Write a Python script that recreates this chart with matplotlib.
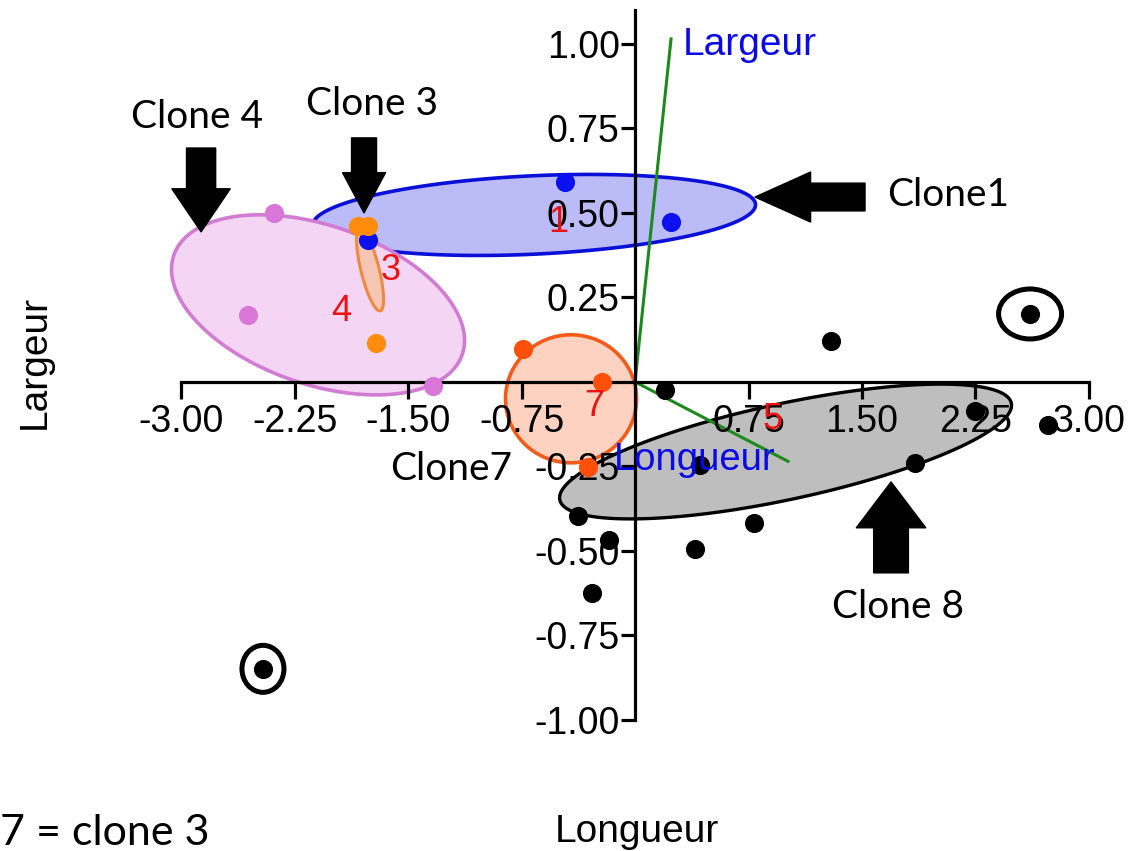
import numpy as np
import matplotlib
matplotlib.use("Agg")
import matplotlib.pyplot as plt
from matplotlib.patches import Polygon, Ellipse

plt.rcParams['font.family'] = ['Liberation Sans', 'DejaVu Sans']
plt.rcParams['axes.unicode_minus'] = False

# ---------------- données ----------------
x_ticks = [-3.00, -2.25, -1.50, -0.75, 0.75, 1.50, 2.25, 3.00]
y_ticks = [1.00, 0.75, 0.50, 0.25, -0.25, -0.50, -0.75, -1.00]

clone1_x = [-0.463, 0.238, -1.765]
clone1_y = [0.592, 0.473, 0.420]
clone4_x = [-2.386, -2.558, -1.335]
clone4_y = [0.500, 0.198, -0.012]
clone3_x = [-1.831, -1.765, -1.712]
clone3_y = [0.462, 0.462, 0.115]
clone7_x = [-0.740, -0.218, -0.310]
clone7_y = [0.098, 0.000, -0.252]
autres_x = [1.295, 0.198, 0.430, 2.247, 2.730, 1.851, -0.377, 0.787, -0.172, 0.397, -0.284]
autres_y = [0.121, -0.024, -0.246, -0.086, -0.127, -0.240, -0.396, -0.417, -0.467, -0.494, -0.624]
entoures_x = [2.611, -2.459]
entoures_y = [0.201, -0.849]

# ellipses : centre, demi-axes (unités de x), angle (degrés à l'écran)
ell_centres = [(-0.667, 0.494), (-2.095, 0.228), (-1.751, 0.331), (-0.423, -0.050), (0.995, -0.206)]
ell_a = [1.465, 1.008, 0.278, 0.433, 1.526]
ell_b = [0.259, 0.525, 0.060, 0.423, 0.317]
ell_angle = [2.7, -19.0, 104.0, 0.0, 12.1]

# vecteurs des variables
var_noms = ['Largeur', 'Longueur']
var_x = [0.238, 1.011]
var_y = [1.015, -0.235]

# numéros des groupes (centroïdes)
num_labels = ['1', '3', '4', '7', '5']
num_x = [-0.509, -1.613, -1.943, -0.271, 0.912]
num_y = [0.473, 0.331, 0.207, -0.074, -0.112]

# ---------------- figure ----------------
W, H = 1131, 851
fig = plt.figure(figsize=(W / 100, H / 100), dpi=100)
ax = fig.add_axes([0, 0, 1, 1])
x0, x1 = -4.197, 3.278
y0, y1 = -1.388, 1.130
ax.set_xlim(x0, x1)
ax.set_ylim(y0, y1)
sx = W / (x1 - x0)   # px par unité
sy = H / (y1 - y0)
k = sy / sx

faces = ['#BBBBF7', '#F4D6F4', '#F5C6B4', '#FDD2C0', '#BEBEBE']
bords = ['#0A10D8', '#D27BD2', '#EE8A40', '#F45A1A', '#000000']
lw_ell = [2.6, 2.6, 2.2, 2.6, 2.4]

t = np.linspace(0, 2 * np.pi, 300)
for (cx, cy), a, b, ang, fc, ec, lw in zip(ell_centres, ell_a, ell_b, ell_angle, faces, bords, lw_ell):
    th = np.radians(ang)
    dx = a * np.cos(t) * np.cos(th) - b * np.sin(t) * np.sin(th)
    dy = (a * np.cos(t) * np.sin(th) + b * np.sin(t) * np.cos(th)) / k
    ax.add_patch(Polygon(np.column_stack([cx + dx, cy + dy]), closed=True,
                         facecolor=fc, edgecolor=ec, lw=lw, zorder=1))

# axes centrés
for s in ['top', 'right']:
    ax.spines[s].set_visible(False)
ax.spines['left'].set_position(('data', 0))
ax.spines['bottom'].set_position(('data', 0))
ax.spines['left'].set_bounds(-1.0, 1.10)
ax.spines['bottom'].set_bounds(-3.0, 3.0)
ax.spines['left'].set_linewidth(2.3)
ax.spines['bottom'].set_linewidth(2.3)
ax.set_axisbelow(False)
ax.set_xticks(x_ticks)
ax.set_xticklabels(['%.2f' % v for v in x_ticks])
ax.set_yticks(y_ticks)
ax.set_yticklabels(['%.2f' % v for v in y_ticks])
ax.tick_params(axis='x', direction='out', length=12, width=2.3, pad=4, labelsize=27)
ax.tick_params(axis='y', direction='out', length=10, width=2.3, pad=1, labelsize=27)

# vecteurs
for vx, vy in zip(var_x, var_y):
    ax.plot([0, vx], [0, vy], color='#1C8A1C', lw=2.2, zorder=2)
ax.text(0.317, 0.997, var_noms[0], color='#0A0AE6', fontsize=28, ha='left', va='center', zorder=4)
ax.text(-0.139, -0.231, var_noms[1], color='#0A0AE6', fontsize=27.5, ha='left', va='center', zorder=4)

# points
ms = 190
ax.scatter(clone1_x, clone1_y, s=ms, color='#0A10F0', zorder=3, linewidths=0)
ax.scatter(clone4_x, clone4_y, s=ms, color='#D877D8', zorder=3, linewidths=0)
ax.scatter(clone3_x, clone3_y, s=ms, color='#FF8C0A', zorder=3, linewidths=0)
ax.scatter(clone7_x, clone7_y, s=ms, color='#FF500A', zorder=3, linewidths=0)
ax.scatter(autres_x, autres_y, s=ms, color='black', zorder=3, linewidths=0)
ax.scatter(entoures_x, entoures_y, s=ms, color='black', zorder=3, linewidths=0)
ax.add_patch(Ellipse((entoures_x[0], entoures_y[0]), 63 / sx, 50 / sy, fill=False, lw=3.6, color='black', zorder=3))
ax.add_patch(Ellipse((entoures_x[1], entoures_y[1]), 42 / sx, 47 / sy, fill=False, lw=3.6, color='black', zorder=3))

for lab, nx, ny in zip(num_labels, num_x, num_y):
    ax.text(nx, ny, lab, color='#EE1111', fontsize=26, ha='center', va='center', zorder=4)

# flèches et noms des clones
fleches = [((-2.868, 0.444), (-2.868, 0.692), 31, 42, 21),
           ((-1.791, 0.500), (-1.791, 0.722), 29, 31, 18),
           ((0.793, 0.547), (1.520, 0.547), 40, 36, 20),
           ((1.692, -0.296), (1.692, -0.565), 33, 50, 25)]
for tip, tail, hl, hw, tw in fleches:
    ax.annotate('', xy=tip, xytext=tail, zorder=5,
                arrowprops=dict(arrowstyle='simple,head_length=%g,head_width=%g,tail_width=%g' % (hl / 10, hw / 10, tw / 10),
                                mutation_scale=10, color='black', shrinkA=0, shrinkB=0))

police = ['Lato', 'DejaVu Sans']
ax.text(-2.895, 0.784, 'Clone 4', fontsize=28, family=police, ha='center', va='center')
ax.text(-1.739, 0.822, 'Clone 3', fontsize=28, family=police, ha='center', va='center')
ax.text(1.665, 0.553, 'Clone1', fontsize=28, family=police, ha='left', va='center')
ax.text(1.739, -0.666, 'Clone 8', fontsize=28, family=police, ha='center', va='center')
ax.text(-0.813, -0.257, 'Clone7', fontsize=28, family=police, ha='right', va='center')
fig.text(0.0, 1 - 833 / H, '7 = clone 3', fontsize=31, family=police, ha='left', va='center')

fig.text(35 / W, 1 - 362 / H, 'Largeur', fontsize=28, rotation=90, ha='center', va='center')
fig.text(637 / W, 1 - 832 / H, 'Longueur', fontsize=28, ha='center', va='center')

fig.savefig('out.png', dpi=100)
